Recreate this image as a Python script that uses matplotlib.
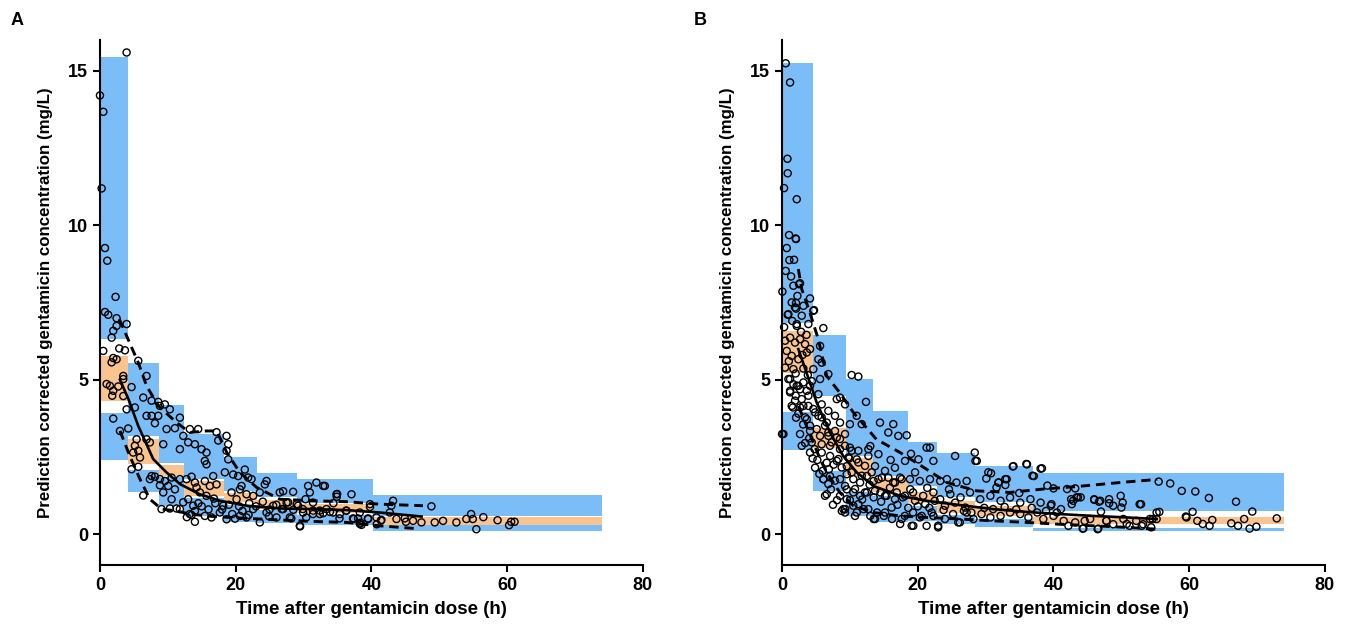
import numpy as np
import matplotlib
matplotlib.use("Agg")
import matplotlib.pyplot as plt

plt.rcParams['font.family'] = ['Liberation Sans', 'DejaVu Sans']
plt.rcParams['font.weight'] = 'bold'

BLUE = '#7BBEF7'
ORANGE = '#F9C48E'

# ---- panel A: bins (CI of 95th, median and 5th percentiles) ----
a_edges = [0, 4.2, 8.7, 12.4, 18.3, 23.2, 29.1, 40.2, 74.0]
a_up_hi = [15.45, 5.55, 4.18, 3.24, 2.5, 1.97, 1.78, 1.27]
a_up_lo = [6.3, 3.18, 2.3, 1.78, 1.4, 1.2, 1.0, 0.6]
a_med_hi = [5.75, 3.07, 2.23, 1.72, 1.33, 1.12, 0.97, 0.55]
a_med_lo = [4.31, 2.27, 1.89, 1.24, 1.05, 0.82, 0.68, 0.31]
a_low_hi = [3.92, 2.07, 1.84, 1.17, 0.95, 0.78, 0.62, 0.28]
a_low_lo = [2.41, 1.37, 0.92, 0.59, 0.4, 0.35, 0.28, 0.11]

# observed percentile lines, panel A
a_p95_t = [2.85, 5.65, 6.87, 8.6, 11.3, 13.25, 15.7, 17.2, 18.7, 20.6, 23.1, 26.5, 31.4, 36.3, 41.2, 47.6]
a_p95_c = [6.96, 5.55, 4.8, 4.15, 3.61, 3.29, 3.34, 3.34, 2.64, 2.0, 1.51, 1.13, 1.08, 1.05, 0.97, 0.92]
a_p5_t = [2.95, 4.4, 5.9, 7.36, 9.1, 11.3, 13.25, 16.7, 21.6, 26.5, 31.4, 36.3, 41.2, 46.6]
a_p5_c = [3.34, 2.53, 1.78, 1.13, 0.81, 0.75, 0.65, 0.57, 0.51, 0.46, 0.41, 0.38, 0.27, 0.18]
a_med_t = [2.95, 4.2, 5.65, 7.85, 9.8, 11.8, 14.7, 17.7, 21.6, 26.5, 31.4, 36.3, 41.2, 47.4]
a_med_c = [5.0, 4.37, 3.5, 2.43, 2.0, 1.62, 1.29, 1.08, 0.92, 0.83, 0.81, 0.78, 0.70, 0.57]

# observed prediction-corrected concentrations, panel A (time h, conc mg/L)
obs_a = [
    (3.93, 15.59), (0.0, 14.2), (0.5, 13.67), (0.25, 11.19), (0.74, 9.26), (1.08, 8.85),
    (2.3, 7.68), (0.74, 7.19), (1.22, 7.1), (2.45, 6.99), (3.93, 6.8), (2.45, 6.74),
    (1.96, 6.58), (1.72, 6.36), (2.85, 6.01), (3.68, 5.95), (0.49, 5.93), (1.96, 5.7),
    (2.45, 5.66), (1.72, 5.56), (5.65, 5.61), (6.87, 5.12), (3.44, 5.12), (0.98, 4.86),
    (1.47, 4.80), (1.96, 4.64), (3.44, 5.02), (2.7, 4.78), (4.66, 4.76), (1.81, 4.48),
    (3.44, 4.47), (6.38, 4.42), (7.61, 4.32), (8.59, 4.28), (9.57, 4.2), (1.96, 3.74),
    (3.93, 4.04), (5.15, 4.1), (6.87, 3.83), (7.61, 3.83), (8.59, 3.83), (8.84, 4.15),
    (10.3, 4.04), (11.78, 3.77), (8.1, 3.59), (9.82, 3.4), (11.05, 3.43), (12.27, 3.18),
    (13.25, 3.4), (14.48, 3.4), (2.95, 3.34), (4.17, 3.42), (13.0, 2.97), (13.99, 2.91),
    (6.87, 3.07), (7.36, 2.97), (9.33, 2.91), (5.4, 3.07), (5.15, 2.86), (5.65, 2.7),
    (5.9, 2.48), (4.9, 2.64), (11.78, 2.75), (14.97, 2.75), (15.7, 2.64), (15.46, 2.37),
    (15.7, 2.26), (17.18, 3.3), (17.43, 3.03), (18.66, 3.18), (18.9, 2.91), (18.66, 2.7),
    (18.9, 2.42), (18.41, 2.0), (19.63, 1.93), (20.37, 1.88), (21.35, 2.09), (21.84, 1.83),
    (22.34, 1.78), (24.55, 1.72), (24.3, 1.61), (20.86, 1.56), (26.5, 1.35), (27.0, 1.39),
    (28.47, 1.37), (30.68, 1.56), (31.9, 1.67), (33.14, 1.56), (34.86, 1.29), (37.07, 1.29),
    (30.93, 1.35), (4.66, 2.10), (5.65, 2.18), (6.38, 1.25), (7.36, 1.78), (7.61, 1.88),
    (8.1, 1.86), (8.84, 1.78), (8.84, 1.58), (9.57, 1.72), (10.06, 1.56), (10.56, 1.83),
    (11.05, 1.45), (9.33, 1.35), (10.56, 1.13), (11.78, 1.78), (12.76, 1.78), (13.5, 1.86),
    (13.99, 1.67), (14.24, 1.51), (15.46, 1.72), (16.69, 1.88), (16.2, 1.56), (17.18, 1.61),
    (14.73, 1.35), (15.7, 1.24), (13.0, 1.13), (12.27, 1.03), (13.74, 0.92), (11.78, 0.81),
    (9.08, 0.81), (10.31, 0.83), (11.29, 0.83), (13.25, 0.65), (13.99, 0.40), (15.46, 0.59),
    (16.44, 0.54), (17.67, 0.70), (18.66, 0.48), (18.17, 0.92), (19.39, 1.35), (20.13, 1.13),
    (20.62, 1.45), (21.6, 1.29), (22.58, 1.24), (23.56, 1.35), (22.58, 0.81), (21.6, 0.54),
    (20.62, 0.59), (23.56, 0.38), (24.55, 0.70), (25.53, 0.92), (26.02, 0.54), (27.0, 0.81),
    (27.73, 1.03), (27.98, 0.54), (29.2, 0.92), (29.45, 0.27), (29.94, 0.70), (31.41, 0.76),
    (32.4, 0.65), (33.38, 0.81), (34.36, 0.70), (35.35, 0.65), (36.33, 0.76), (37.3, 0.51),
    (38.04, 0.51), (38.54, 0.30), (39.51, 0.51), (40.75, 0.54), (41.48, 0.46), (42.71, 0.70),
    (42.95, 0.92), (43.2, 1.08), (43.7, 0.49), (44.92, 0.51), (46.14, 0.43), (47.38, 0.38),
    (48.85, 0.90), (49.34, 0.38), (50.56, 0.43), (52.53, 0.38), (54.0, 0.49), (54.7, 0.65),
    (54.95, 0.49), (55.47, 0.16), (41.4, 0.44), (45.1, 0.40), (56.5, 0.55), (58.6, 0.45),
    (60.3, 0.29), (60.6, 0.40), (61.1, 0.40), (39.8, 0.88), (34.9, 1.21), (40.8, 0.32),
    (38.4, 0.37), (32.9, 1.56), (34.96, 1.30), (30.3, 1.13), (27.5, 1.02), (29.0, 0.97),
    (31.4, 1.02), (34.4, 1.0), (39.8, 0.97), (26.8, 0.81), (28.5, 0.79), (29.9, 0.81),
    (32.4, 0.76), (33.9, 0.72), (36.3, 0.76), (38.3, 0.70), (28.2, 0.51), (29.5, 0.25),
    (30.4, 0.54), (35.3, 0.51), (37.4, 0.49), (38.3, 0.33), (39.5, 0.49), (31.4, 0.65),
    (32.9, 0.68), (14.0, 0.75), (15.0, 0.9), (16.0, 0.8), (17.0, 1.0), (18.0, 0.8),
    (19.0, 0.95), (19.5, 0.65), (20.5, 0.9), (21.0, 0.75), (22.0, 1.0), (23.0, 0.9),
    (24.0, 1.05), (25.0, 0.8), (26.0, 0.95), (12.8, 0.55), (14.5, 1.0), (16.8, 1.15),
    (19.9, 0.5), (21.9, 0.62), (24.9, 0.58), (13.5, 0.62),
]

# ---- panel B ----
b_edges = [0, 4.5, 9.38, 13.45, 18.6, 22.9, 28.4, 37.0, 73.9]
b_up_hi = [15.26, 6.44, 5.02, 3.97, 2.97, 2.64, 2.2, 1.97]
b_up_lo = [6.83, 4.48, 2.53, 1.89, 1.55, 1.2, 1.05, 0.75]
b_med_hi = [6.56, 3.45, 2.45, 1.83, 1.35, 1.08, 0.92, 0.54]
b_med_lo = [5.21, 2.8, 1.89, 1.37, 1.0, 0.7, 0.6, 0.32]
b_low_hi = [3.96, 2.05, 1.35, 1.24, 0.92, 0.62, 0.5, 0.19]
b_low_lo = [2.72, 1.40, 0.59, 0.38, 0.43, 0.32, 0.22, 0.09]

b_p95_t = [2.4, 2.9, 4.1, 5.35, 6.58, 8.5, 10.5, 13.9, 17.4, 21.3, 24.3, 28.7, 33.6, 38.5, 43.4, 50.8, 55.3]
b_p95_c = [8.58, 7.93, 7.17, 6.3, 5.12, 4.58, 3.94, 3.07, 2.64, 2.1, 1.67, 1.40, 1.35, 1.46, 1.54, 1.69, 1.77]
b_p5_t = [2.4, 3.6, 5.6, 6.58, 8.5, 10.5, 13.45, 17.4, 21.3, 26.2, 31.1, 36.0, 40.9, 45.8, 50.8, 55.2]
b_p5_c = [4.15, 3.5, 2.43, 2.0, 1.35, 0.92, 0.70, 0.59, 0.54, 0.49, 0.43, 0.38, 0.32, 0.27, 0.22, 0.16]
b_med_t = [2.4, 3.6, 5.1, 7.07, 9.0, 11.0, 13.45, 17.4, 21.3, 26.2, 31.1, 36.0, 40.9, 45.8, 50.8, 55.2]
b_med_c = [5.99, 5.23, 4.26, 3.29, 2.53, 2.0, 1.56, 1.24, 1.08, 0.94, 0.81, 0.72, 0.65, 0.59, 0.54, 0.49]

obs_b = [
    (0.54, 15.24), (1.18, 14.62), (0.79, 12.15), (0.83, 11.68), (0.29, 11.2), (2.16, 10.84),
    (1.03, 9.68), (2.01, 9.57), (2.06, 9.55), (0.69, 9.26), (1.08, 8.87), (1.77, 8.88),
    (0.54, 8.52), (1.33, 8.34), (1.67, 8.04), (2.5, 8.09), (0.05, 7.85), (2.26, 7.71),
    (4.12, 7.63), (1.42, 7.5), (2.06, 7.48), (3.14, 7.39), (2.06, 7.3), (0.83, 7.1),
    (2.9, 7.07), (4.71, 7.25), (2.16, 6.8), (3.88, 6.8), (6.08, 6.67),
    (2.65, 8.12), (1.91, 7.34), (0.93, 7.12), (4.61, 7.23), (2.16, 6.74),
    (0.44, 6.26), (1.18, 6.36), (1.91, 6.2), (2.65, 6.31), (3.39, 6.15), (4.12, 5.99),
    (0.69, 5.93), (1.42, 5.77), (2.4, 5.66), (3.64, 5.88), (5.6, 6.09), (5.35, 5.66),
    (0.44, 5.39), (1.67, 5.34), (3.14, 5.36), (4.61, 5.34), (5.84, 5.55), (6.82, 5.18),
    (10.26, 5.15), (11.24, 5.1), (1.18, 5.02), (2.16, 4.8), (3.14, 4.91), (4.12, 4.8),
    (5.6, 5.02), (1.18, 4.59), (2.65, 4.69), (3.88, 4.48), (5.35, 4.53), (8.06, 4.37),
    (8.54, 4.42), (9.28, 4.2), (12.37, 4.28), (1.91, 4.32), (3.14, 4.15), (4.61, 4.05),
    (5.84, 4.2), (6.82, 3.99), (7.8, 3.83), (0.2, 3.24), (2.06, 3.77), (3.64, 3.72),
    (5.35, 3.83), (6.58, 3.61), (8.54, 3.61), (10.0, 3.56), (11.0, 3.83), (11.74, 3.56),
    (14.43, 3.61), (15.66, 3.29), (16.39, 3.56), (17.13, 3.18), (18.36, 3.2), (2.65, 3.24),
    (4.12, 3.34), (5.6, 3.18), (6.82, 3.29), (8.06, 3.13), (9.28, 3.24), (2.9, 2.86),
    (4.37, 2.97), (5.84, 2.91), (7.06, 2.86), (8.54, 2.75), (10.0, 2.8), (11.24, 2.7),
    (12.72, 2.75), (14.2, 2.59), (4.12, 2.64), (4.86, 2.15), (6.58, 2.31), (8.06, 2.37),
    (9.53, 2.2), (11.0, 2.42), (12.72, 2.53), (13.7, 2.2), (15.17, 2.05), (16.64, 2.15),
    (18.12, 2.37), (19.6, 2.0), (21.3, 2.8), (21.8, 2.8), (20.1, 2.42), (22.3, 2.37),
    (25.5, 2.53), (28.4, 2.64), (28.7, 2.37), (6.08, 1.78), (7.06, 1.88), (8.54, 1.78),
    (9.53, 1.94), (10.5, 1.78), (11.5, 1.67), (12.5, 1.88), (13.5, 1.72), (14.7, 1.83),
    (16.4, 1.67), (17.4, 1.83), (18.85, 1.78), (20.3, 1.72), (21.8, 1.78), (23.3, 1.72),
    (24.3, 1.78), (25.7, 1.67), (27.2, 1.72), (30.4, 2.0), (31.9, 1.67), (33.1, 1.78),
    (34.1, 2.2), (36.1, 2.26), (37.1, 1.88), (38.3, 2.13), (31.6, 1.51), (6.58, 1.29),
    (8.54, 1.24), (9.53, 1.45), (10.5, 1.35), (11.5, 1.24), (12.5, 1.35), (13.5, 1.19),
    (14.5, 1.35), (15.4, 1.24), (16.9, 1.35), (17.8, 1.19), (19.3, 1.35), (20.8, 1.24),
    (22.3, 1.35), (23.3, 1.13), (24.8, 1.29), (26.3, 1.19), (27.7, 1.35), (29.2, 1.13),
    (30.7, 1.24), (32.2, 1.08), (33.6, 1.19), (35.1, 1.02), (36.6, 1.13), (38.1, 1.02),
    (39.6, 0.92), (41.1, 0.81), (42.6, 1.13), (44.0, 1.19), (46.0, 1.13), (46.9, 1.08),
    (48.2, 1.13), (49.9, 1.24), (52.9, 0.97), (55.2, 0.70), (8.8, 0.75), (9.3, 0.81),
    (10.5, 0.92), (11.0, 0.70), (12.0, 0.81), (13.0, 0.59), (13.5, 0.49), (14.0, 0.70),
    (15.0, 0.59), (16.2, 0.49), (17.4, 0.33), (18.1, 0.59), (19.1, 0.27), (19.3, 0.70),
    (20.3, 0.54), (21.3, 0.27), (22.3, 0.59), (23.0, 0.27), (24.0, 0.49), (25.2, 0.65),
    (26.2, 0.38), (27.2, 0.70), (28.2, 0.49), (29.4, 0.65), (30.7, 0.54), (31.1, 0.81),
    (32.2, 0.59), (33.6, 0.70), (35.1, 0.65), (36.3, 0.54), (37.6, 0.70), (38.5, 0.49),
    (40.0, 0.59), (41.5, 0.43), (43.2, 0.38), (44.3, 0.18), (45.4, 0.49), (46.6, 0.18),
    (47.8, 0.43), (48.8, 0.32), (50.3, 0.49), (51.2, 0.27), (52.2, 0.43), (53.2, 0.32),
    (54.2, 0.49), (55.5, 1.70), (57.2, 1.64), (58.9, 1.40), (60.9, 1.38), (62.9, 1.17),
    (66.9, 1.05), (69.3, 0.73), (55.6, 0.72), (60.5, 0.72), (59.6, 0.54), (61.2, 0.43),
    (62.0, 0.33), (63.4, 0.46), (63.0, 0.27), (66.2, 0.35), (67.2, 0.27), (68.1, 0.49),
    (68.9, 0.18), (69.9, 0.24), (72.9, 0.51), (54.6, 0.49), (55.2, 0.49), (59.5, 0.57),
    (28.5, 2.37), (34.0, 2.19), (36.0, 2.27), (38.1, 2.12), (36.9, 1.89), (30.1, 1.80),
    (30.8, 1.97), (31.9, 1.67), (32.9, 1.78), (32.9, 1.59), (39.1, 1.57), (40.0, 1.48),
    (42.0, 1.46), (43.2, 1.48), (34.95, 1.33), (39.7, 0.97), (42.7, 0.97), (42.9, 1.08),
    (43.4, 1.19), (43.6, 1.19), (46.0, 1.11), (46.7, 1.05), (48.2, 1.0), (48.8, 0.92),
    (50.2, 1.02), (50.0, 0.86), (52.7, 0.97), (47.0, 0.73), (44.4, 0.18), (46.5, 0.16),
    (42.2, 0.27), (44.6, 0.43), (47.8, 0.43), (50.8, 0.33), (53.0, 0.27), (54.4, 0.22),
    (0.93, 5.02), (1.67, 4.85), (2.4, 4.8), (1.18, 4.64), (2.01, 4.48), (2.9, 4.37),
    (3.64, 4.64), (1.42, 4.15), (2.65, 4.1), (3.88, 4.15), (4.86, 3.94), (5.84, 3.78),
    (3.39, 3.78), (4.12, 3.51), (5.11, 3.4), (6.33, 3.51), (6.82, 3.18), (7.8, 3.34),
    (8.54, 3.08), (7.32, 2.97), (9.28, 2.86), (10.26, 2.7), (5.84, 2.64), (7.07, 2.53),
    (8.3, 2.43), (9.77, 2.48), (11.24, 2.32), (12.22, 2.21), (8.79, 2.16), (10.26, 2.0),
    (11.74, 1.89), (13.21, 2.0), (14.2, 1.78), (15.66, 1.83), (16.64, 1.67), (17.63, 1.78),
    (6.08, 1.78), (6.82, 1.62), (7.8, 1.73), (9.28, 1.56), (10.75, 1.46), (12.22, 1.35),
    (13.7, 1.4), (15.17, 1.24), (16.64, 1.13), (18.1, 1.24), (19.6, 1.08), (21.1, 0.97),
    (22.5, 1.08), (24.0, 0.92), (25.5, 1.02), (27.0, 0.86), (9.53, 1.13), (11.24, 0.97),
    (12.71, 0.81), (13.7, 0.49), (15.17, 0.70), (16.15, 0.86), (17.63, 0.49), (19.34, 0.27),
    (20.57, 0.59), (22.05, 0.70), (23.0, 0.22), (25.96, 0.38), (27.9, 0.70), (6.33, 1.24),
    (9.03, 0.81), (10.75, 0.59), (9.28, 0.70), (0.0, 3.24),
    (1.5, 6.9), (2.8, 6.55), (3.6, 6.45), (0.3, 6.7), (1.0, 5.6), (2.0, 5.2),
    (3.0, 5.8), (3.8, 5.15), (4.4, 4.95), (1.6, 4.1), (2.4, 3.9), (3.1, 3.55),
    (4.0, 3.1), (4.8, 2.75), (5.2, 2.4), (6.0, 2.05), (6.9, 2.1), (7.6, 2.25),
    (3.4, 2.95), (4.5, 2.45), (5.5, 1.95), (7.2, 1.45), (8.1, 1.1), (7.5, 0.95),
    (10.0, 1.1), (11.8, 1.12), (14.6, 1.05), (17.0, 0.95), (18.6, 0.85), (20.0, 0.9),
    (21.7, 0.85), (23.8, 0.78), (26.8, 0.75), (29.8, 0.85), (32.8, 0.88), (34.5, 0.8),
    (36.8, 0.85), (38.9, 0.75), (40.5, 0.7), (12.9, 1.6), (15.9, 1.5), (18.9, 1.45),
    (21.4, 1.5), (24.6, 1.45), (9.9, 2.45), (13.0, 2.85), (16.0, 2.4), (19.0, 2.6),
]


def draw_panel(ax, edges, bands, p95, p5, med, obs):
    edges = np.array(edges)
    left = edges[:-1]
    width = np.diff(edges)
    for hi, lo, col in bands:
        hi = np.array(hi)
        lo = np.array(lo)
        ax.bar(left, hi - lo, width=width, bottom=lo, align='edge',
               color=col, linewidth=0, zorder=1)
    pts = np.array(obs)
    ax.scatter(pts[:, 0], pts[:, 1], s=26, facecolors='none',
               edgecolors='black', linewidths=1.0, zorder=3, clip_on=False)
    ax.plot(med[0], med[1], color='black', lw=1.9, zorder=4)
    ax.plot(p95[0], p95[1], color='black', lw=2.1, ls=(0, (3.2, 2.0)), zorder=4)
    ax.plot(p5[0], p5[1], color='black', lw=2.1, ls=(0, (3.2, 2.0)), zorder=4)

    ax.set_xlim(0, 80)
    ax.set_ylim(-1, 16)
    ax.set_xticks([0, 20, 40, 60, 80])
    ax.set_yticks([0, 5, 10, 15])
    for s in ['top', 'right']:
        ax.spines[s].set_visible(False)
    for s in ['left', 'bottom']:
        ax.spines[s].set_linewidth(1.5)
    ax.tick_params(width=1.5, length=5, labelsize=13)
    for lab in ax.get_xticklabels() + ax.get_yticklabels():
        lab.set_fontweight('bold')
    ax.set_xlabel('Time after gentamicin dose (h)', fontsize=13.5, fontweight='bold', labelpad=5)
    ax.set_ylabel('Prediction corrected gentamicin concentration (mg/L)', fontsize=12.2,
                  fontweight='bold', labelpad=11)


fig = plt.figure(figsize=(13.47, 6.26), dpi=100)
ax_a = fig.add_axes([0.0742, 0.0974, 0.403, 0.839])
ax_b = fig.add_axes([0.5806, 0.0974, 0.403, 0.839])

draw_panel(ax_a, a_edges,
           [(a_up_hi, a_up_lo, BLUE), (a_med_hi, a_med_lo, ORANGE), (a_low_hi, a_low_lo, BLUE)],
           (a_p95_t, a_p95_c), (a_p5_t, a_p5_c), (a_med_t, a_med_c), obs_a)
draw_panel(ax_b, b_edges,
           [(b_up_hi, b_up_lo, BLUE), (b_med_hi, b_med_lo, ORANGE), (b_low_hi, b_low_lo, BLUE)],
           (b_p95_t, b_p95_c), (b_p5_t, b_p5_c), (b_med_t, b_med_c), obs_b)

fig.text(0.008, 0.968, 'A', fontsize=13, fontweight='bold', ha='left', va='center')
fig.text(0.515, 0.968, 'B', fontsize=13, fontweight='bold', ha='left', va='center')

fig.savefig('out.png', dpi=100)
